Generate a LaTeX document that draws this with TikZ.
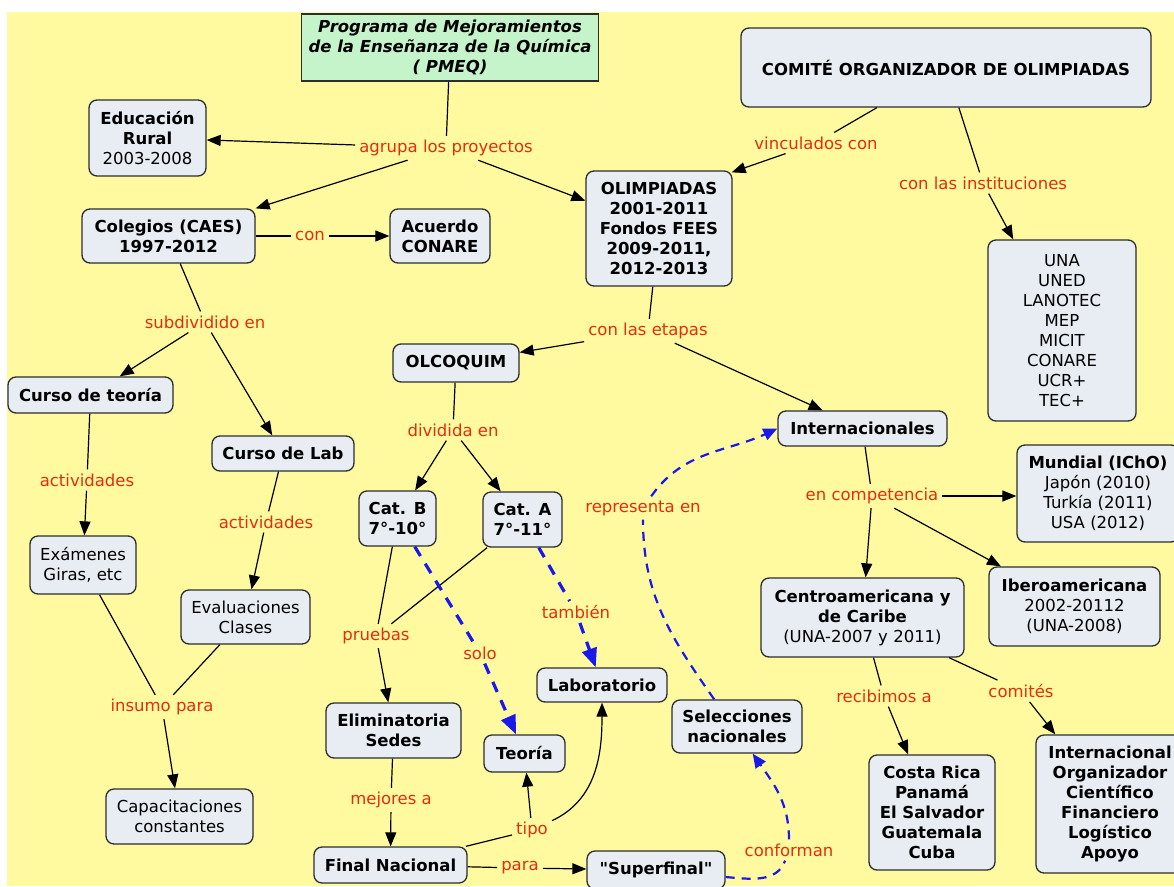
\documentclass[tikz,border=0pt]{standalone}
\usepackage{fontspec}
\setmainfont{DejaVu Sans}[Ligatures=TeXOff]
\usetikzlibrary{arrows.meta}
\definecolor{fondo}{RGB}{255,250,160}
\definecolor{caja}{RGB}{231,237,243}
\definecolor{verde}{RGB}{198,244,202}
\definecolor{rotulo}{RGB}{226,46,14}
\definecolor{azul}{RGB}{25,25,235}
\definecolor{borde}{RGB}{45,45,45}

\begin{document}
\begin{tikzpicture}[x=1pt,y=-1pt,
    concepto/.style={draw=borde,line width=1.3pt,fill=caja,rounded corners=8pt,align=center,inner sep=2pt,
      font=\fontsize{16.5}{20}\selectfont\bfseries},
    suave/.style={concepto,font=\fontsize{16.5}{20}\selectfont},
    programa/.style={draw=borde,line width=1.3pt,fill=verde,align=center,inner sep=2pt,
      font=\fontsize{16.5}{20}\selectfont\bfseries\itshape},
    etiqueta/.style={text=rotulo,inner sep=4pt,font=\fontsize{16.5}{20}\selectfont},
    linea/.style={draw=black,line width=1.2pt},
    flecha/.style={linea,-{Triangle[length=14pt,width=11pt]}},
    azulg/.style={draw=azul,line width=3.2pt,dash pattern=on 11pt off 9pt},
    flechag/.style={azulg,-{Triangle[length=19pt,width=15pt]}},
    azulf/.style={draw=azul,line width=2.2pt,dash pattern=on 9pt off 7pt},
    flechaf/.style={azulf,-{Triangle[length=14pt,width=12pt]}}]
  \useasboundingbox (0,0) rectangle (1174,886);
  \fill[white] (0,0) rectangle (1174,886);
  \fill[fondo] (7,12) rectangle (1174,886);

  \node[programa,minimum width=297pt,minimum height=67pt] (pmeq) at (450,47.5)
    {Programa de Mejoramientos\\de la Enseñanza de la Química\\( PMEQ)};
  \node[concepto,minimum width=410pt,minimum height=79pt] (comite) at (946,67.5) {COMITÉ ORGANIZADOR DE OLIMPIADAS};
  \node[concepto,minimum width=117pt,minimum height=76pt] (rural) at (147.5,138) {Educación\\Rural\\\textmd{2003-2008}};
  \node[concepto,minimum width=173pt,minimum height=54pt] (caes) at (168.5,236) {Colegios (CAES)\\1997-2012};
  \node[concepto,minimum width=100pt,minimum height=54pt] (conare) at (440,236) {Acuerdo\\CONARE};
  \node[concepto,minimum width=146pt,minimum height=115pt] (olimp) at (659,228.5)
    {OLIMPIADAS\\2001-2011\\Fondos FEES\\2009-2011,\\2012-2013};
  \node[suave,minimum width=148pt,minimum height=181pt] (inst) at (1062,330.5)
    {UNA\\UNED\\LANOTEC\\MEP\\MICIT\\CONARE\\UCR+\\TEC+};
  \node[concepto,minimum width=165pt,minimum height=36pt] (teoria) at (90.5,395) {Curso de teoría};
  \node[concepto,minimum width=142pt,minimum height=35pt] (lab) at (283,453.5) {Curso de Lab};
  \node[concepto,minimum width=126pt,minimum height=38pt] (olcoquim) at (456,363) {OLCOQUIM};
  \node[concepto,minimum width=77pt,minimum height=55pt] (catB) at (397.5,518.5) {Cat. B\\7°-10°};
  \node[concepto,minimum width=79pt,minimum height=55pt] (catA) at (522.5,519.5) {Cat. A\\7°-11°};
  \node[suave,minimum width=106pt,minimum height=58pt] (examenes) at (83,565) {Exámenes\\Giras, etc};
  \node[suave,minimum width=129pt,minimum height=54pt] (evaluac) at (245.5,617) {Evaluaciones\\Clases};
  \node[suave,minimum width=147pt,minimum height=55pt] (capacit) at (179.5,816.5) {Capacitaciones\\constantes};
  \node[concepto,minimum width=135pt,minimum height=55pt] (elim) at (393.5,730.5) {Eliminatoria\\Sedes};
  \node[concepto,minimum width=81pt,minimum height=37pt] (teoriaT) at (524.5,753.5) {Teoría};
  \node[concepto,minimum width=130pt,minimum height=34pt] (labT) at (602,685) {Laboratorio};
  \node[concepto,minimum width=153pt,minimum height=36pt] (final) at (390.5,865) {Final Nacional};
  \node[concepto,minimum width=138pt,minimum height=38pt] (superfinal) at (656,870) {"Superfinal"};
  \node[concepto,minimum width=130pt,minimum height=53pt] (selec) at (737,726.5) {Selecciones\\nacionales};
  \node[concepto,minimum width=169pt,minimum height=35pt] (internac) at (862.5,428.5) {Internacionales};
  \node[concepto,minimum width=162pt,minimum height=97pt] (mundial) at (1098,493.5)
    {Mundial (IChO)\\\textmd{Japón (2010)}\\\textmd{Turkía (2011)}\\\textmd{USA (2012)}};
  \node[concepto,minimum width=203pt,minimum height=79pt] (centro) at (862.5,617.5)
    {Centroamericana y\\de Caribe\\\textmd{(UNA-2007 y 2011)}};
  \node[concepto,minimum width=171pt,minimum height=79pt] (ibero) at (1074.5,606.5)
    {Iberoamericana\\\textmd{2002-20112}\\\textmd{(UNA-2008)}};
  \node[concepto,minimum width=126pt,minimum height=115pt] (paises) at (932,812.5)
    {Costa Rica\\Panamá\\El Salvador\\Guatemala\\Cuba};
  \node[concepto,minimum width=148pt,minimum height=138pt] (comitesB) at (1110,804)
    {Internacional\\Organizador\\Científico\\Financiero\\Logístico\\Apoyo};

  \node[etiqueta] (lAgrupa) at (446,148) {agrupa los proyectos};
  \node[etiqueta] (lCon) at (310,236) {con};
  \node[etiqueta] (lVinc) at (816,143) {vinculados con};
  \node[etiqueta] (lInst) at (983,183) {con las instituciones};
  \node[etiqueta] (lSubdiv) at (205,322) {subdividido en};
  \node[etiqueta] (lEtapas) at (648,331) {con las etapas};
  \node[etiqueta] (lDiv) at (453,430) {dividida en};
  \node[etiqueta] (lAct1) at (87,480) {actividades};
  \node[etiqueta] (lAct2) at (266,522) {actividades};
  \node[etiqueta] (lInsumo) at (162,707) {insumo para};
  \node[etiqueta] (lPruebas) at (376,636) {pruebas};
  \node[etiqueta] (lSolo) at (480,653) {solo};
  \node[etiqueta] (lTamb) at (576,612) {también};
  \node[etiqueta] (lRep) at (643,508) {representa en};
  \node[etiqueta] (lMejores) at (391,800) {mejores a};
  \node[etiqueta] (lTipo) at (532,830) {tipo};
  \node[etiqueta] (lPara) at (520,868) {para};
  \node[etiqueta] (lConf) at (789,850) {conforman};
  \node[etiqueta] (lComp) at (872,496) {en competencia};
  \node[etiqueta] (lRecib) at (884,696) {recibimos a};
  \node[etiqueta] (lComites) at (1021,691) {comités};

  \foreach \a/\b in {pmeq/lAgrupa,caes/lCon,comite/lVinc,comite/lInst,olimp/lEtapas,caes/lSubdiv,
      teoria/lAct1,lab/lAct2,examenes/lInsumo,evaluac/lInsumo,olcoquim/lDiv,catB/lPruebas,
      catA/lPruebas,elim/lMejores,final/lTipo,final/lPara,internac/lComp,centro/lRecib,centro/lComites}
    \draw[linea] (\a) -- (\b);
  \foreach \a/\b in {lAgrupa/rural,lAgrupa/caes,lAgrupa/olimp,lCon/conare,lInst/inst,lEtapas/olcoquim,
      lEtapas/internac,lSubdiv/teoria,lSubdiv/lab,lAct1/examenes,lAct2/evaluac,lInsumo/capacit,
      lDiv/catB,lDiv/catA,lPruebas/elim,lMejores/final,lTipo/teoriaT,lPara/superfinal,
      lComp/centro,lComp/ibero,lRecib/paises,lComites/comitesB}
    \draw[flecha] (\a) -- (\b);
  \draw[flecha] (lVinc) -- ([xshift=-1pt,yshift=-2pt]olimp.north east);
  \draw[flecha] (lComp) -- (lComp -| mundial.west);
  \draw[flecha] (lTipo) to[out=25,in=-90] (labT);

  \draw[azulg] (catB) -- (lSolo);
  \draw[flechag] (lSolo) -- (teoriaT);
  \draw[azulg] (catA) -- (lTamb);
  \draw[flechag] (lTamb) -- (labT);

  \draw[azulf] (selec.130) to[out=125,in=-90] (lRep);
  \draw[flechaf] (lRep) to[out=55,in=205] (internac.west);
  \draw[azulf] ([yshift=-7pt]superfinal.east) to[out=-5,in=-110] (lConf);
  \draw[flechaf] (lConf) to[out=90,in=-55] (selec.-60);
\end{tikzpicture}
\end{document}
